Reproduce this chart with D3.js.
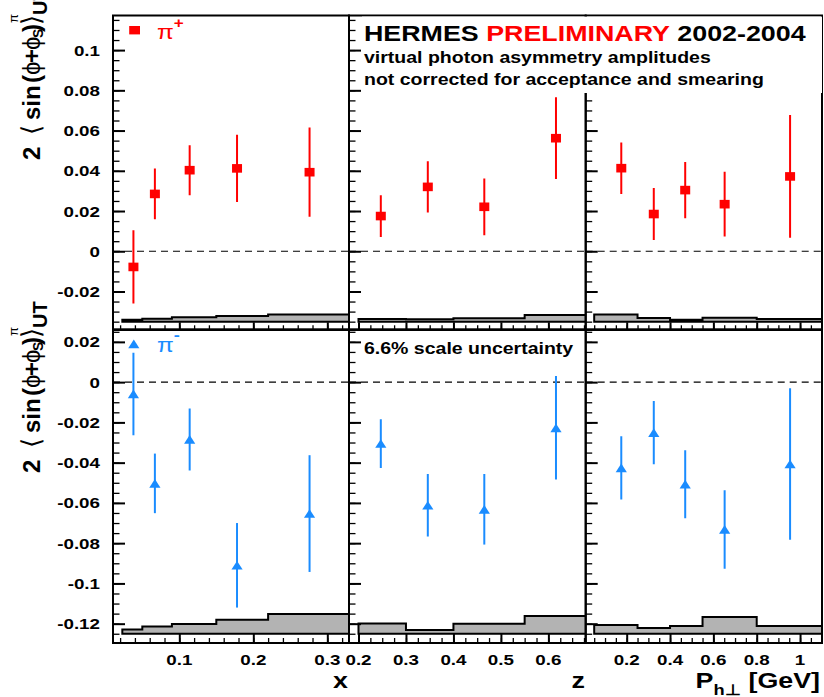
<!DOCTYPE html>
<html>
<head>
<meta charset="utf-8">
<script src="https://cdn.jsdelivr.net/npm/d3@7"></script>
<style>
  body { margin: 0; background: #fff; }
  svg { display: block; }
</style>
</head>
<body>
<svg id="chart" width="824" height="697"></svg>
<script>
// ---- kinematic bins (mean values) ----
const xMean  = [0.038, 0.067, 0.114, 0.178, 0.276];
const zMean  = [0.247, 0.346, 0.465, 0.616];
const phMean = [0.175, 0.325, 0.470, 0.652, 0.954];

// ---- pi+ amplitudes and statistical errors ----
const plusX     = [-0.0078, 0.0285, 0.0403, 0.0412, 0.0393];
const plusXErr  = [0.0182, 0.0126, 0.0124, 0.0167, 0.0222];
const plusZ     = [0.0175, 0.0320, 0.0221, 0.0562];
const plusZErr  = [0.0104, 0.0127, 0.0141, 0.0203];
const plusPh    = [0.0413, 0.0185, 0.0304, 0.0234, 0.0372];
const plusPhErr = [0.0128, 0.0129, 0.0140, 0.0161, 0.0305];

// ---- pi- amplitudes and statistical errors ----
const minusX     = [-0.0059, -0.0503, -0.0285, -0.0910, -0.0653];
const minusXErr  = [0.0205, 0.0148, 0.0154, 0.0210, 0.0290];
const minusZ     = [-0.0305, -0.0612, -0.0632, -0.0227];
const minusZErr  = [0.0121, 0.0155, 0.0175, 0.0257];
const minusPh    = [-0.0426, -0.0251, -0.0507, -0.0732, -0.0407];
const minusPhErr = [0.0157, 0.0157, 0.0169, 0.0195, 0.0376];

// ---- systematic uncertainty bands (bin edges and heights) ----
const xEdges  = [0.023, 0.05, 0.09, 0.15, 0.22, 0.40];
const zEdges  = [0.2, 0.3, 0.4, 0.55, 0.7];
const phEdges = [0.05, 0.25, 0.4, 0.55, 0.8, 1.3];
const sysPlusX   = [0.0010, 0.0015, 0.0022, 0.0028, 0.0035];
const sysPlusZ   = [0.0013, 0.0012, 0.0017, 0.0033];
const sysPlusPh  = [0.0035, 0.0018, 0.0010, 0.0020, 0.0013];
const sysMinusX  = [0.0021, 0.0036, 0.0048, 0.0070, 0.0098];
const sysMinusZ  = [0.0051, 0.0018, 0.0050, 0.0088];
const sysMinusPh = [0.0043, 0.0028, 0.0038, 0.0083, 0.0038];

// ---- tick labels ----
const xTickLabels  = [0.1, 0.2, 0.3];
const zTickLabels  = [0.2, 0.3, 0.4, 0.5, 0.6];
const phTickLabels = [0.2, 0.4, 0.6, 0.8, 1];
const yTopTicks    = [-0.02, 0, 0.02, 0.04, 0.06, 0.08, 0.1];
const yBotTicks    = [-0.12, -0.1, -0.08, -0.06, -0.04, -0.02, 0, 0.02];

const FONT = "'Liberation Sans', Arial, Helvetica, sans-serif";
const SX = 1.22;          // horizontal stretch of the horizontal lettering
const RED = "#ff0000";
const BLUE = "#1a8cff";
const GRAY = "#b3b3b3";

const svg = d3.select("#chart");

// ---- columns (x variables) ----
const cols = [
  { dom: [0.0104, 0.3293], rng: [113, 349],
    major: xTickLabels, minor: d3.range(0.02, 0.33, 0.02),
    labels: xTickLabels, edges: xEdges, mean: xMean,
    plus: plusX, plusErr: plusXErr, minus: minusX, minusErr: minusXErr,
    sysPlus: sysPlusX, sysMinus: sysMinusX },
  { dom: [0.180, 0.6786], rng: [349, 585.7],
    major: zTickLabels, minor: d3.range(0.2, 0.68, 0.025),
    labels: zTickLabels, edges: zEdges, mean: zMean,
    plus: plusZ, plusErr: plusZErr, minus: minusZ, minusErr: minusZErr,
    sysPlus: sysPlusZ, sysMinus: sysMinusZ },
  { dom: [0.0108, 1.1013], rng: [585.7, 822],
    major: [0.2, 0.4, 0.6, 0.8, 1.0], minor: d3.range(0.05, 1.1, 0.05),
    labels: phTickLabels, edges: phEdges, mean: phMean,
    plus: plusPh, plusErr: plusPhErr, minus: minusPh, minusErr: minusPhErr,
    sysPlus: sysPlusPh, sysMinus: sysMinusPh }
];
cols.forEach(c => c.x = d3.scaleLinear().domain(c.dom).range(c.rng));

// ---- rows (pi+ on top, pi- below) ----
const rows = [
  { dom: [-0.0388, 0.1172], rng: [329.3, 15.5], base: -0.035,
    major: yTopTicks, minor: d3.range(-0.035, 0.1171, 0.005),
    xMaj: 7, xMin: 4, kind: "plus", color: RED },
  { dom: [-0.1296, 0.0259], rng: [643, 330], base: -0.125,
    major: yBotTicks, minor: d3.range(-0.125, 0.0259, 0.005),
    xMaj: 10, xMin: 5, kind: "minus", color: BLUE }
];
rows.forEach(r => r.y = d3.scaleLinear().domain(r.dom).range(r.rng));

const defs = svg.append("defs");

function stretchText(parent, x, y, size, anchor, weight) {
  return parent.append("text")
    .attr("transform", `translate(${x},${y}) scale(${SX},1)`)
    .attr("font-family", FONT)
    .attr("font-size", size)
    .attr("font-weight", weight || "bold")
    .attr("text-anchor", anchor || "start");
}

rows.forEach((row, ri) => {
  cols.forEach((col, ci) => {
    const x = col.x, y = row.y;
    const x0 = col.rng[0], x1 = col.rng[1];
    const yT = row.rng[1], yB = row.rng[0];
    const id = `clip-${ri}-${ci}`;
    defs.append("clipPath").attr("id", id)
      .append("rect").attr("x", x0).attr("y", yT)
      .attr("width", x1 - x0).attr("height", yB - yT);

    const g = svg.append("g");
    const inner = g.append("g").attr("clip-path", `url(#${id})`);

    // systematic band as step histogram from the baseline
    const edges = col.edges;
    const h = row.kind === "plus" ? col.sysPlus : col.sysMinus;
    const pts = [[edges[0], row.base]];
    h.forEach((v, i) => {
      pts.push([edges[i], row.base + v]);
      pts.push([edges[i + 1], row.base + v]);
    });
    pts.push([edges[edges.length - 1], row.base]);
    inner.append("path")
      .attr("d", d3.line().x(d => x(d[0])).y(d => y(d[1]))(pts) + "Z")
      .attr("fill", GRAY).attr("stroke", "#000").attr("stroke-width", 2)
      .attr("stroke-linejoin", "miter");

    // zero line
    inner.append("line")
      .attr("x1", x0).attr("x2", x1).attr("y1", y(0)).attr("y2", y(0))
      .attr("stroke", "#000").attr("stroke-width", 1.1)
      .attr("stroke-dasharray", "7,5");

    // y ticks (inside, on the left edge)
    g.append("g").attr("transform", `translate(${x0},0)`)
      .call(d3.axisRight(y).tickValues(row.minor).tickSize(6.5).tickFormat(""))
      .call(a => a.select(".domain").remove())
      .call(a => a.selectAll("line").attr("stroke-width", 1.3));
    g.append("g").attr("transform", `translate(${x0},0)`)
      .call(d3.axisRight(y).tickValues(row.major).tickSize(12).tickFormat(""))
      .call(a => a.select(".domain").remove())
      .call(a => a.selectAll("line").attr("stroke-width", 2));

    // x ticks (inside, on the bottom edge)
    g.append("g").attr("transform", `translate(0,${yB})`)
      .call(d3.axisTop(x).tickValues(col.minor.filter(v => v > col.dom[0] && v < col.dom[1]))
        .tickSize(row.xMin).tickFormat(""))
      .call(a => a.select(".domain").remove())
      .call(a => a.selectAll("line").attr("stroke-width", 1.3));
    g.append("g").attr("transform", `translate(0,${yB})`)
      .call(d3.axisTop(x).tickValues(col.major).tickSize(row.xMaj).tickFormat(""))
      .call(a => a.select(".domain").remove())
      .call(a => a.selectAll("line").attr("stroke-width", 2));

    // data: error bars and markers
    const vals = row.kind === "plus" ? col.plus : col.minus;
    const errs = row.kind === "plus" ? col.plusErr : col.minusErr;
    const data = vals.map((v, i) => ({ m: col.mean[i], v, e: errs[i] }));
    inner.selectAll("line.err").data(data).join("line")
      .attr("class", "err")
      .attr("x1", d => x(d.m)).attr("x2", d => x(d.m))
      .attr("y1", d => y(d.v - d.e)).attr("y2", d => y(d.v + d.e))
      .attr("stroke", row.color).attr("stroke-width", 2);
    if (row.kind === "plus") {
      inner.selectAll("rect.mk").data(data).join("rect")
        .attr("class", "mk")
        .attr("x", d => x(d.m) - 5).attr("y", d => y(d.v) - 4.3)
        .attr("width", 10).attr("height", 8.6).attr("fill", row.color);
    } else {
      inner.selectAll("path.mk").data(data).join("path")
        .attr("class", "mk")
        .attr("transform", d => `translate(${x(d.m)},${y(d.v)})`)
        .attr("d", "M0,-4.4L5.6,4.3L-5.6,4.3Z").attr("fill", row.color);
    }

    // frame
    g.append("rect").attr("x", x0).attr("y", yT)
      .attr("width", x1 - x0).attr("height", yB - yT)
      .attr("fill", "none").attr("stroke", "#000").attr("stroke-width", 2);

    // y tick labels (first column only)
    if (ci === 0) {
      row.major.forEach(v => {
        stretchText(svg, 100, y(v) + 5.5, 15.4, "end").text(String(+v.toFixed(3)));
      });
    }
    // x tick labels (bottom row only)
    if (ri === 1) {
      col.labels.forEach(v => {
        stretchText(svg, x(v), 665, 15.4, "middle").text(String(v));
      });
    }
  });
});

// ---- header box over the upper-right panels ----
svg.append("rect").attr("x", 362).attr("y", 16.6)
  .attr("width", 460).attr("height", 76.4).attr("fill", "#fff");
const t1 = stretchText(svg, 364, 40.7, 22, "start");
t1.append("tspan").text("HERMES ");
t1.append("tspan").attr("fill", RED).text("PRELIMINARY");
t1.append("tspan").text(" 2002-2004");
stretchText(svg, 364, 63.3, 16, "start").text("virtual photon asymmetry amplitudes");
stretchText(svg, 364, 85, 16, "start").text("not corrected for acceptance and smearing");
stretchText(svg, 364, 354, 16, "start").text("6.6% scale uncertainty");

// ---- legends ----
svg.append("rect").attr("x", 129.2).attr("y", 26).attr("width", 10.8).attr("height", 8.4).attr("fill", RED);
const lp = stretchText(svg, 157, 39, 20, "start", "normal").attr("fill", RED);
lp.append("tspan").text("π");
lp.append("tspan").attr("font-size", 14).attr("font-weight", "bold").attr("dy", -11).text("+");
svg.append("path").attr("transform", "translate(133.8,344)")
  .attr("d", "M0,-4.4L5.6,4.3L-5.6,4.3Z").attr("fill", BLUE);
const lm = stretchText(svg, 157, 352, 20, "start", "normal").attr("fill", BLUE);
lm.append("tspan").text("π");
lm.append("tspan").attr("font-size", 15).attr("font-weight", "bold").attr("dy", -12).text("-");

// ---- axis titles ----
stretchText(svg, 348, 688, 22, "end").text("x");
stretchText(svg, 585, 688, 22, "end").text("z");
const pt = stretchText(svg, 820, 688, 22, "end");
pt.append("tspan").text("P");
pt.append("tspan").attr("font-size", 15).attr("dy", 7).text("h⊥");
pt.append("tspan").attr("dy", -7).text(" [GeV]");

// rotated y title: 2<sin(phi+phi_S)>^pi_UT, pieces placed along the text axis
function yTitle(yStart) {
  const t = svg.append("text")
    .attr("transform", `translate(39.5,${yStart}) rotate(-90)`)
    .attr("font-family", FONT).attr("font-weight", "bold").attr("font-size", 24);
  const piece = (s, px, py, opt = {}) => {
    const sp = t.append("tspan").attr("x", px).attr("y", py).text(s);
    if (opt.size) sp.attr("font-size", opt.size);
    if (opt.w) sp.attr("font-weight", opt.w);
  };
  piece("2", 0, 0);
  piece("⟨", 25, 0, { w: "normal", size: 26 });
  piece("sin", 40, 0);
  piece("(", 77, 0);
  piece("ϕ", 85, 0, { w: "normal" });
  piece("+", 97, 0);
  piece("ϕ", 110, 0, { w: "normal" });
  piece("S", 122, 3.5, { size: 14 });
  piece(")", 128, 0);
  piece("⟩", 135, 0, { w: "normal", size: 26 });
  piece("π", 137, -21.5, { size: 13, w: "normal" });
  piece("UT", 145, 7.5, { size: 20 });
}
yTitle(160);
yTitle(473);
</script>
</body>
</html>
